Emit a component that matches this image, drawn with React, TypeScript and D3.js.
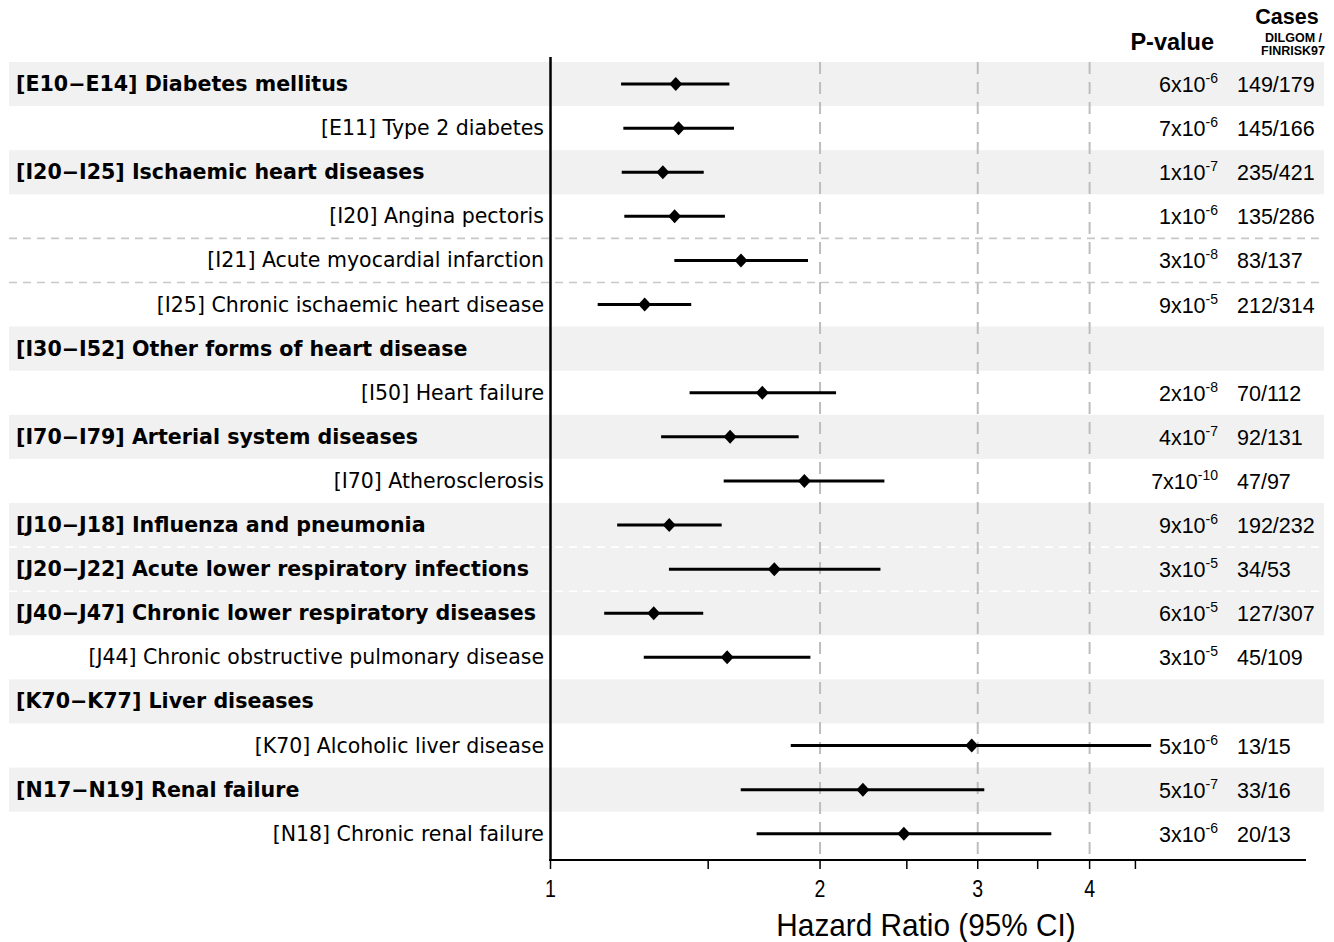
import React from 'react';
import * as d3 from 'd3';

// forest plot: hazard ratios per ICD-10 endpoint
const labels = [
  '[E10\u2212E14] Diabetes mellitus',
  '[E11] Type 2 diabetes',
  '[I20\u2212I25] Ischaemic heart diseases',
  '[I20] Angina pectoris',
  '[I21] Acute myocardial infarction',
  '[I25] Chronic ischaemic heart disease',
  '[I30\u2212I52] Other forms of heart disease',
  '[I50] Heart failure',
  '[I70\u2212I79] Arterial system diseases',
  '[I70] Atherosclerosis',
  '[J10\u2212J18] Influenza and pneumonia',
  '[J20\u2212J22] Acute lower respiratory infections',
  '[J40\u2212J47] Chronic lower respiratory diseases',
  '[J44] Chronic obstructive pulmonary disease',
  '[K70\u2212K77] Liver diseases',
  '[K70] Alcoholic liver disease',
  '[N17\u2212N19] Renal failure',
  '[N18] Chronic renal failure',
];
const isGroup = [true, false, true, false, false, false, true, false, true, false, true, true, true, false, true, false, true, false];

const hr = [1.38, 1.39, 1.335, 1.376, 1.632, 1.274, null, 1.724, 1.587, 1.921, 1.357, 1.778, 1.304, 1.575, null, 2.954, 2.233, 2.481];
const ciLow = [1.199, 1.206, 1.201, 1.209, 1.375, 1.129, null, 1.43, 1.329, 1.561, 1.187, 1.356, 1.148, 1.271, null, 1.855, 1.631, 1.699];
const ciHigh = [1.584, 1.603, 1.483, 1.566, 1.939, 1.436, null, 2.084, 1.893, 2.36, 1.553, 2.336, 1.481, 1.951, null, 4.686, 3.051, 3.625];

const pMant = ['6', '7', '1', '1', '3', '9', null, '2', '4', '7', '9', '3', '6', '3', null, '5', '5', '3'];
const pExp = ['-6', '-6', '-7', '-6', '-8', '-5', null, '-8', '-7', '-10', '-6', '-5', '-5', '-5', null, '-6', '-7', '-6'];
const cases = ['149/179', '145/166', '235/421', '135/286', '83/137', '212/314', '', '70/112', '92/131', '47/97', '192/232', '34/53', '127/307', '45/109', '', '13/15', '33/16', '20/13'];

// dashed separators below these rows
const sepAfter = [3, 4, 10, 11];

const majorTicks = [1, 2, 3, 4];
const minorTicks = [1.5, 2.5, 3.5, 4.5];
const gridTicks = [2, 3, 4];

const W = 1334;
const H = 942;
const labelFont = "'DejaVu Sans', Verdana, sans-serif";
const numFont = "'Liberation Sans', Arial, Helvetica, sans-serif";

export default function App() {
  const x = d3.scaleLog().domain([1, 7.05]).range([550.5, 1310]);
  const y = d3.scaleBand<number>().domain(d3.range(labels.length)).range([62, 62 + 44.1 * labels.length]);
  const bw = y.bandwidth();
  const axisY = 860;
  const bandLeft = 9;
  const bandRight = 1324;

  const diamond = (cx: number, cy: number) =>
    `M${cx},${cy - 7}L${cx + 6.5},${cy}L${cx},${cy + 7}L${cx - 6.5},${cy}Z`;

  return (
    <svg width={W} height={H} style={{ position: 'absolute', left: 0, top: 0, background: '#fff' }}>
      {/* shaded group rows */}
      {labels.map((_, i) =>
        isGroup[i] ? (
          <rect key={'bg' + i} x={bandLeft} y={y(i)} width={bandRight - bandLeft} height={bw} fill="#f1f1f1" />
        ) : null
      )}

      {/* separators */}
      {sepAfter.map((i) => (
        <line
          key={'sep' + i}
          x1={bandLeft}
          x2={bandRight}
          y1={(y(i) as number) + bw}
          y2={(y(i) as number) + bw}
          stroke={isGroup[i] && isGroup[i + 1] ? '#ffffff' : '#c8c8c8'}
          strokeWidth={1.6}
          strokeDasharray="8,6"
        />
      ))}

      {/* vertical grid */}
      {gridTicks.map((t) => (
        <line key={'g' + t} x1={x(t)} x2={x(t)} y1={62} y2={axisY} stroke="#bdbdbd" strokeWidth={2} strokeDasharray="12,8" />
      ))}

      {/* y axis line */}
      <line x1={550.5} x2={550.5} y1={57} y2={axisY + 1} stroke="#000" strokeWidth={2.5} />
      {/* x axis */}
      <line x1={549} x2={1306} y1={axisY} y2={axisY} stroke="#000" strokeWidth={2} />
      {majorTicks.concat(minorTicks).map((t) => (
        <line key={'t' + t} x1={x(t)} x2={x(t)} y1={axisY} y2={axisY + 9} stroke="#000" strokeWidth={1.5} />
      ))}
      {majorTicks.map((t) => (
        <text
          key={'tl' + t}
          transform={`translate(${x(t)},897) scale(0.85,1)`}
          textAnchor="middle"
          fontFamily={numFont}
          fontSize={23}
          fill="#000"
        >
          {t}
        </text>
      ))}
      <text transform="translate(926,936) scale(0.93,1)" textAnchor="middle" fontFamily={numFont} fontSize={32} fill="#000">
        Hazard Ratio (95% CI)
      </text>

      {/* CI lines and points */}
      {labels.map((_, i) => {
        if (hr[i] == null) return null;
        const cy = (y(i) as number) + bw / 2;
        return (
          <g key={'m' + i}>
            <line x1={x(ciLow[i] as number)} x2={x(ciHigh[i] as number)} y1={cy} y2={cy} stroke="#000" strokeWidth={3} />
            <path d={diamond(x(hr[i] as number), cy)} fill="#000" />
          </g>
        );
      })}

      {/* row labels */}
      {labels.map((lab, i) => {
        const cy = (y(i) as number) + bw / 2;
        return isGroup[i] ? (
          <text key={'l' + i} x={16} y={cy + 7} fontFamily={labelFont} fontWeight="bold" fontSize={20.6} fill="#000">
            {lab}
          </text>
        ) : (
          <text key={'l' + i} x={544} y={cy + 7} textAnchor="end" fontFamily={labelFont} fontSize={20.5} fill="#000">
            {lab}
          </text>
        );
      })}

      {/* p-values */}
      {labels.map((_, i) => {
        if (pMant[i] == null) return null;
        const cy = (y(i) as number) + bw / 2;
        return (
          <text key={'p' + i} x={1218} y={cy + 8} textAnchor="end" fontFamily={numFont} fontSize={21.5} fill="#000">
            {pMant[i] + 'x10'}
            <tspan dy={-9} fontSize={14}>{pExp[i]}</tspan>
          </text>
        );
      })}

      {/* cases */}
      {cases.map((c, i) => {
        const cy = (y(i) as number) + bw / 2;
        return (
          <text key={'c' + i} x={1237} y={cy + 8} fontFamily={numFont} fontSize={21.5} fill="#000">
            {c}
          </text>
        );
      })}

      {/* headers */}
      <text x={1214} y={50} textAnchor="end" fontFamily={numFont} fontWeight="bold" fontSize={23.5} fill="#000">
        P-value
      </text>
      <text x={1287} y={24} textAnchor="middle" fontFamily={numFont} fontWeight="bold" fontSize={21.5} fill="#000">
        Cases
      </text>
      <text x={1322} y={42} textAnchor="end" fontFamily={numFont} fontWeight="bold" fontSize={12.5} fill="#000">
        DILGOM /
      </text>
      <text x={1325} y={55} textAnchor="end" fontFamily={numFont} fontWeight="bold" fontSize={12.5} fill="#000">
        FINRISK97
      </text>
    </svg>
  );
}
